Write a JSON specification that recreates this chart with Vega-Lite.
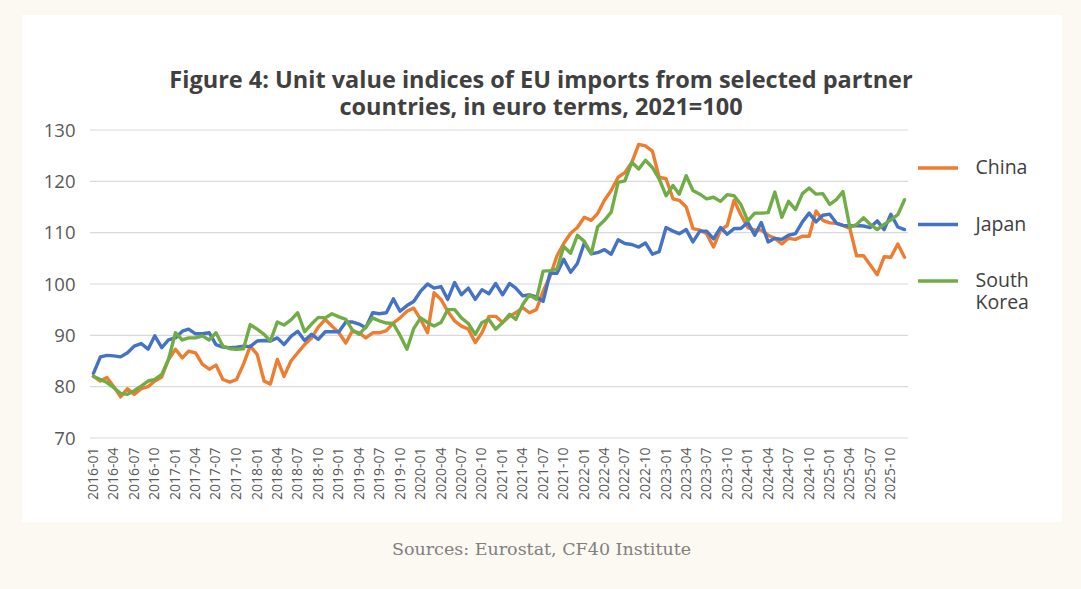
{
  "$schema": "https://vega.github.io/schema/vega-lite/v6.json",
  "width": 818,
  "height": 308,
  "autosize": {"type": "none"},
  "padding": {"left": 90, "top": 130, "right": 173, "bottom": 151},
  "background": "#fcf8f2",
  "title": {
    "text": ["Figure 4: Unit value indices of EU imports from selected partner", "countries, in euro terms, 2021=100"],
    "font": "Open Sans",
    "fontSize": 23.5,
    "fontWeight": "bold",
    "color": "#404040",
    "lineHeight": 27,
    "anchor": "middle",
    "dx": 42,
    "offset": -104
  },
  "config": {"view": {"stroke": null}, "axis": {"zindex": 1}},
  "layer": [
    {
      "data": {"values": [{}]},
      "mark": {"type": "rect", "fill": "white"},
      "encoding": {
        "x": {"datum": {"year": 2015, "month": 2, "date": 15}, "type": "temporal"},
        "x2": {"datum": {"year": 2027, "month": 11, "date": 4}},
        "y": {"datum": 152.4, "type": "quantitative"},
        "y2": {"datum": 53.6}
      }
    },
    {
      "data": {"values": [{"g": 70}, {"g": 80}, {"g": 90}, {"g": 100}, {"g": 110}, {"g": 120}, {"g": 130}]},
      "mark": {"type": "rule", "color": "#d9d9d9", "strokeWidth": 1.2},
      "encoding": {
        "y": {"field": "g", "type": "quantitative"}
      }
    },
    {
      "data": {
        "values": [
          {"m": "2016-01", "China": 82, "Japan": 82.6, "South Korea": 82},
          {"m": "2016-02", "China": 81.1, "Japan": 85.8, "South Korea": 81.4},
          {"m": "2016-03", "China": 81.8, "Japan": 86.1, "South Korea": 80.8},
          {"m": "2016-04", "China": 80, "Japan": 86, "South Korea": 79.8},
          {"m": "2016-05", "China": 78, "Japan": 85.8, "South Korea": 78.7},
          {"m": "2016-06", "China": 79.6, "Japan": 86.6, "South Korea": 78.5},
          {"m": "2016-07", "China": 78.5, "Japan": 87.9, "South Korea": 79.2},
          {"m": "2016-08", "China": 79.6, "Japan": 88.4, "South Korea": 80.1},
          {"m": "2016-09", "China": 80, "Japan": 87.3, "South Korea": 81.1},
          {"m": "2016-10", "China": 81.1, "Japan": 89.9, "South Korea": 81.4},
          {"m": "2016-11", "China": 81.9, "Japan": 87.6, "South Korea": 82.4},
          {"m": "2016-12", "China": 85.3, "Japan": 89.1, "South Korea": 85.3},
          {"m": "2017-01", "China": 87.3, "Japan": 89.5, "South Korea": 90.5},
          {"m": "2017-02", "China": 85.6, "Japan": 90.8, "South Korea": 89.1},
          {"m": "2017-03", "China": 86.9, "Japan": 91.2, "South Korea": 89.5},
          {"m": "2017-04", "China": 86.6, "Japan": 90.3, "South Korea": 89.5},
          {"m": "2017-05", "China": 84.4, "Japan": 90.3, "South Korea": 89.9},
          {"m": "2017-06", "China": 83.4, "Japan": 90.5, "South Korea": 89.1},
          {"m": "2017-07", "China": 84.2, "Japan": 88.2, "South Korea": 90.5},
          {"m": "2017-08", "China": 81.4, "Japan": 87.7, "South Korea": 87.9},
          {"m": "2017-09", "China": 80.9, "Japan": 87.6, "South Korea": 87.4},
          {"m": "2017-10", "China": 81.4, "Japan": 87.7, "South Korea": 87.3},
          {"m": "2017-11", "China": 84.4, "Japan": 87.9, "South Korea": 87.4},
          {"m": "2017-12", "China": 87.9, "Japan": 87.8, "South Korea": 92.1},
          {"m": "2018-01", "China": 86.3, "Japan": 88.9, "South Korea": 91.2},
          {"m": "2018-02", "China": 81.1, "Japan": 89, "South Korea": 90.2},
          {"m": "2018-03", "China": 80.5, "Japan": 88.9, "South Korea": 88.9},
          {"m": "2018-04", "China": 85.3, "Japan": 89.5, "South Korea": 92.6},
          {"m": "2018-05", "China": 82, "Japan": 88.2, "South Korea": 92},
          {"m": "2018-06", "China": 85, "Japan": 89.8, "South Korea": 93},
          {"m": "2018-07", "China": 86.6, "Japan": 90.8, "South Korea": 94.4},
          {"m": "2018-08", "China": 88.2, "Japan": 89, "South Korea": 90.7},
          {"m": "2018-09", "China": 89.5, "Japan": 90.2, "South Korea": 92.2},
          {"m": "2018-10", "China": 91.6, "Japan": 89.2, "South Korea": 93.5},
          {"m": "2018-11", "China": 93.1, "Japan": 90.7, "South Korea": 93.4},
          {"m": "2018-12", "China": 91.8, "Japan": 90.7, "South Korea": 94.2},
          {"m": "2019-01", "China": 90.5, "Japan": 90.7, "South Korea": 93.6},
          {"m": "2019-02", "China": 88.5, "Japan": 92.6, "South Korea": 93.1},
          {"m": "2019-03", "China": 90.8, "Japan": 92.6, "South Korea": 91.1},
          {"m": "2019-04", "China": 90.5, "Japan": 92.2, "South Korea": 90.2},
          {"m": "2019-05", "China": 89.5, "Japan": 91.5, "South Korea": 91.6},
          {"m": "2019-06", "China": 90.5, "Japan": 94.4, "South Korea": 93.4},
          {"m": "2019-07", "China": 90.5, "Japan": 94.2, "South Korea": 92.8},
          {"m": "2019-08", "China": 90.9, "Japan": 94.4, "South Korea": 92.4},
          {"m": "2019-09", "China": 92.4, "Japan": 97.1, "South Korea": 92.3},
          {"m": "2019-10", "China": 93.4, "Japan": 94.7, "South Korea": 90},
          {"m": "2019-11", "China": 94.7, "Japan": 95.8, "South Korea": 87.3},
          {"m": "2019-12", "China": 95.3, "Japan": 96.6, "South Korea": 91.3},
          {"m": "2020-01", "China": 93.1, "Japan": 98.6, "South Korea": 93.4},
          {"m": "2020-02", "China": 90.5, "Japan": 100, "South Korea": 92.5},
          {"m": "2020-03", "China": 98.3, "Japan": 99.2, "South Korea": 91.8},
          {"m": "2020-04", "China": 97, "Japan": 99.5, "South Korea": 92.5},
          {"m": "2020-05", "China": 94.7, "Japan": 97, "South Korea": 95},
          {"m": "2020-06", "China": 92.8, "Japan": 100.3, "South Korea": 95},
          {"m": "2020-07", "China": 91.8, "Japan": 97.9, "South Korea": 93.4},
          {"m": "2020-08", "China": 91.2, "Japan": 99.2, "South Korea": 92.3},
          {"m": "2020-09", "China": 88.6, "Japan": 97, "South Korea": 90.2},
          {"m": "2020-10", "China": 90.5, "Japan": 98.9, "South Korea": 92.5},
          {"m": "2020-11", "China": 93.7, "Japan": 98.1, "South Korea": 93.1},
          {"m": "2020-12", "China": 93.7, "Japan": 100.1, "South Korea": 91.2},
          {"m": "2021-01", "China": 92.5, "Japan": 97.9, "South Korea": 92.5},
          {"m": "2021-02", "China": 93.7, "Japan": 100.1, "South Korea": 94.1},
          {"m": "2021-03", "China": 94.4, "Japan": 99.2, "South Korea": 93.1},
          {"m": "2021-04", "China": 95.4, "Japan": 97.7, "South Korea": 96},
          {"m": "2021-05", "China": 94.4, "Japan": 97.9, "South Korea": 97.9},
          {"m": "2021-06", "China": 95, "Japan": 97.5, "South Korea": 97},
          {"m": "2021-07", "China": 98.6, "Japan": 96.6, "South Korea": 102.5},
          {"m": "2021-08", "China": 101.5, "Japan": 102.1, "South Korea": 102.6},
          {"m": "2021-09", "China": 105.5, "Japan": 102.1, "South Korea": 102.9},
          {"m": "2021-10", "China": 107.9, "Japan": 104.8, "South Korea": 107.3},
          {"m": "2021-11", "China": 109.9, "Japan": 102.3, "South Korea": 106},
          {"m": "2021-12", "China": 111, "Japan": 104, "South Korea": 109.5},
          {"m": "2022-01", "China": 113, "Japan": 108, "South Korea": 108.3},
          {"m": "2022-02", "China": 112.4, "Japan": 105.9, "South Korea": 105.9},
          {"m": "2022-03", "China": 113.7, "Japan": 106.1, "South Korea": 111.1},
          {"m": "2022-04", "China": 116.3, "Japan": 106.7, "South Korea": 112.4},
          {"m": "2022-05", "China": 118.2, "Japan": 105.8, "South Korea": 114},
          {"m": "2022-06", "China": 120.8, "Japan": 108.6, "South Korea": 119.8},
          {"m": "2022-07", "China": 121.7, "Japan": 107.9, "South Korea": 120.1},
          {"m": "2022-08", "China": 123.7, "Japan": 107.7, "South Korea": 123.7},
          {"m": "2022-09", "China": 127.2, "Japan": 107.2, "South Korea": 122.4},
          {"m": "2022-10", "China": 126.9, "Japan": 108, "South Korea": 124.1},
          {"m": "2022-11", "China": 125.9, "Japan": 105.8, "South Korea": 122.7},
          {"m": "2022-12", "China": 120.8, "Japan": 106.3, "South Korea": 120.5},
          {"m": "2023-01", "China": 120.5, "Japan": 111, "South Korea": 117.2},
          {"m": "2023-02", "China": 116.6, "Japan": 110.3, "South Korea": 119.2},
          {"m": "2023-03", "China": 116.3, "Japan": 109.8, "South Korea": 117.5},
          {"m": "2023-04", "China": 115, "Japan": 110.6, "South Korea": 121.1},
          {"m": "2023-05", "China": 110.8, "Japan": 108.2, "South Korea": 118.2},
          {"m": "2023-06", "China": 110.5, "Japan": 110.3, "South Korea": 117.5},
          {"m": "2023-07", "China": 109.8, "Japan": 110.3, "South Korea": 116.6},
          {"m": "2023-08", "China": 107.2, "Japan": 108.8, "South Korea": 116.9},
          {"m": "2023-09", "China": 110.5, "Japan": 111, "South Korea": 116.1},
          {"m": "2023-10", "China": 111.4, "Japan": 109.7, "South Korea": 117.4},
          {"m": "2023-11", "China": 116.3, "Japan": 110.8, "South Korea": 117.2},
          {"m": "2023-12", "China": 113.5, "Japan": 110.8, "South Korea": 115.5},
          {"m": "2024-01", "China": 111, "Japan": 112, "South Korea": 112.3},
          {"m": "2024-02", "China": 110.5, "Japan": 109.5, "South Korea": 113.8},
          {"m": "2024-03", "China": 110.5, "Japan": 112, "South Korea": 113.8},
          {"m": "2024-04", "China": 109.5, "Japan": 108.2, "South Korea": 113.9},
          {"m": "2024-05", "China": 108.9, "Japan": 108.9, "South Korea": 117.9},
          {"m": "2024-06", "China": 107.8, "Japan": 108.7, "South Korea": 113},
          {"m": "2024-07", "China": 108.9, "Japan": 109.5, "South Korea": 116.1},
          {"m": "2024-08", "China": 108.7, "Japan": 109.8, "South Korea": 114.5},
          {"m": "2024-09", "China": 109.3, "Japan": 112.1, "South Korea": 117.6},
          {"m": "2024-10", "China": 109.3, "Japan": 113.8, "South Korea": 118.7},
          {"m": "2024-11", "China": 114.2, "Japan": 112.1, "South Korea": 117.5},
          {"m": "2024-12", "China": 112.4, "Japan": 113.4, "South Korea": 117.6},
          {"m": "2025-01", "China": 111.9, "Japan": 113.6, "South Korea": 115.5},
          {"m": "2025-02", "China": 111.8, "Japan": 111.8, "South Korea": 116.5},
          {"m": "2025-03", "China": 111.4, "Japan": 111.4, "South Korea": 118},
          {"m": "2025-04", "China": 110.8, "Japan": 111.3, "South Korea": 111},
          {"m": "2025-05", "China": 105.5, "Japan": 111.4, "South Korea": 111.6},
          {"m": "2025-06", "China": 105.5, "Japan": 111.3, "South Korea": 112.9},
          {"m": "2025-07", "China": 103.7, "Japan": 111, "South Korea": 111.6},
          {"m": "2025-08", "China": 101.8, "Japan": 112.3, "South Korea": 110.6},
          {"m": "2025-09", "China": 105.3, "Japan": 110.6, "South Korea": 111.6},
          {"m": "2025-10", "China": 105.2, "Japan": 113.6, "South Korea": 112.5},
          {"m": "2025-11", "China": 107.8, "Japan": 111.1, "South Korea": 113.5},
          {"m": "2025-12", "China": 105.2, "Japan": 110.6, "South Korea": 116.4}
        ]
      },
      "transform": [
        {"fold": ["China", "Japan", "South Korea"], "as": ["country", "value"]}
      ],
      "mark": {"type": "line", "strokeWidth": 3.4, "strokeJoin": "round", "strokeCap": "round"},
      "encoding": {
        "x": {
          "field": "m",
          "type": "temporal",
          "scale": {
            "domain": [
              {"year": 2015, "month": 12, "date": 16, "hours": 12},
              {"year": 2025, "month": 12, "date": 16, "hours": 12}
            ]
          },
          "axis": {
            "format": "%Y-%m",
            "tickCount": {"interval": "month", "step": 3},
            "labelAngle": -90,
            "labelFont": "Open Sans",
            "labelFontSize": 14,
            "labelColor": "#595959",
            "labelPadding": 9,
            "labelOverlap": false,
            "labelFlush": false,
            "grid": false,
            "domain": false,
            "ticks": false,
            "tickSize": 0,
            "zindex": 1,
            "title": "Sources: Eurostat, CF40 Institute",
            "titleFont": "DejaVu Serif",
            "titleFontSize": 17.5,
            "titleFontWeight": "normal",
            "titleColor": "#808080",
            "titleX": 451,
            "titleY": 111,
            "titleBaseline": "middle",
            "titleAlign": "center"
          }
        },
        "y": {
          "field": "value",
          "type": "quantitative",
          "scale": {"domain": [70, 130], "nice": false, "zero": false},
          "axis": {
            "values": [70, 80, 90, 100, 110, 120, 130],
            "labelFont": "Open Sans",
            "labelFontSize": 18.5,
            "labelColor": "#595959",
            "labelPadding": 15,
            "grid": false,
            "domain": false,
            "ticks": false,
            "tickSize": 0,
            "zindex": 1,
            "title": null
          }
        },
        "color": {
          "field": "country",
          "type": "nominal",
          "scale": {"domain": ["China", "Japan", "South Korea"], "range": ["#ED7D31", "#4472C4", "#70AD47"]},
          "legend": {
            "title": null,
            "orient": "none",
            "legendX": 826,
            "legendY": 16,
            "padding": 0,
            "symbolType": "stroke",
            "symbolSize": 1600,
            "symbolStrokeWidth": 3.5,
            "labelFont": "Open Sans",
            "labelFontSize": 19.5,
            "labelColor": "#404040",
            "labelOffset": 15.5,
            "labelLimit": 200,
            "rowPadding": 24.5,
            "labelExpr": "datum.label == 'South Korea' ? ['South', 'Korea'] : datum.label"
          }
        }
      }
    }
  ]
}
